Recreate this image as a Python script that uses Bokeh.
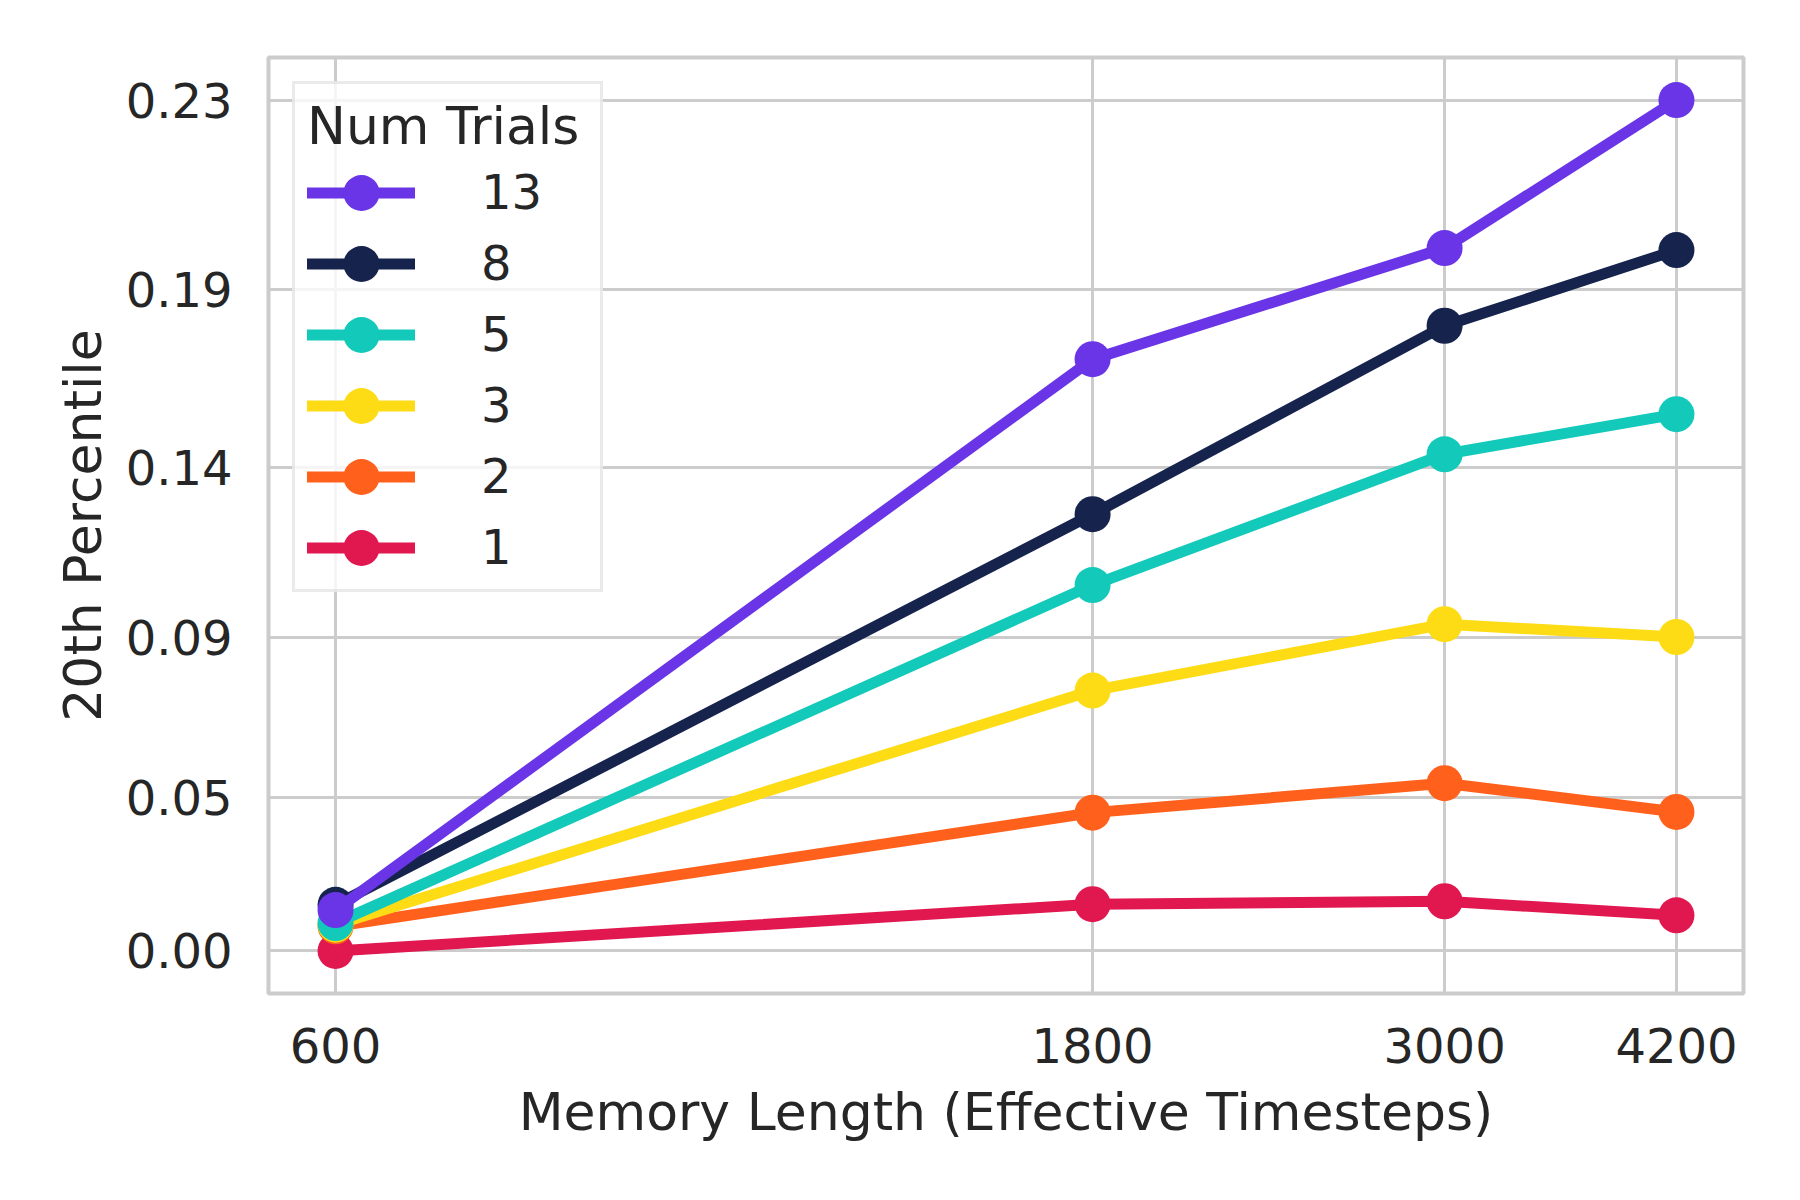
import numpy as np
from bokeh.plotting import figure
from bokeh.models import Range1d, FixedTicker, CustomJSTickFormatter, Legend, LegendItem
from bokeh.embed import file_html
from bokeh.resources import INLINE

# ---------------- data ----------------
memory_length = [600, 1800, 3000, 4200]
xtick_labels = ["600", "1800", "3000", "4200"]

trials_1 = [0.0000, 0.0144, 0.0153, 0.0110]
trials_2 = [0.0076, 0.0420, 0.0507, 0.0422]
trials_3 = [0.0081, 0.0776, 0.0964, 0.0928]
trials_5 = [0.0086, 0.1073, 0.1428, 0.1534]
trials_8 = [0.0142, 0.1267, 0.1763, 0.1954]
trials_13 = [0.0126, 0.1677, 0.1959, 0.2320]

ytick_values = [0.0, 0.0464, 0.0928, 0.1392, 0.1856, 0.232]
ytick_labels = ["0.00", "0.05", "0.09", "0.14", "0.19", "0.23"]

series = [
    ("1", trials_1, "#E1174F"),
    ("2", trials_2, "#FF601C"),
    ("3", trials_3, "#FEDC15"),
    ("5", trials_5, "#13C9BA"),
    ("8", trials_8, "#15234D"),
    ("13", trials_13, "#6A35E6"),
]
legend_order = ["13", "8", "5", "3", "2", "1"]

FONT = "DejaVu Sans"
TXT = "#262626"


def fwd(v):
    # value axis is drawn on a -log(1 - y) scale
    return -np.log1p(-np.asarray(v, dtype=float))


# ranges with 5% padding (log space for x, transformed space for y)
lx0, lx1 = np.log10(min(memory_length)), np.log10(max(memory_length))
padx = 0.05 * (lx1 - lx0)
all_vals = np.concatenate([s[1] for s in series])
fy0, fy1 = fwd(all_vals.min()), fwd(all_vals.max())
pady = 0.05 * (fy1 - fy0)

p = figure(
    width=1784, height=1184,
    x_axis_type="log",
    x_range=Range1d(10 ** (lx0 - padx), 10 ** (lx1 + padx)),
    y_range=Range1d(fy0 - pady, fy1 + pady),
    output_backend="svg", toolbar_location=None,
    min_border_left=268, min_border_right=41,
    min_border_top=57, min_border_bottom=191,
)
p.background_fill_color = "white"
p.border_fill_color = "white"
p.outline_line_color = "#cccccc"
p.outline_line_width = 4

yt = [float(t) for t in fwd(ytick_values)]
p.xaxis.ticker = FixedTicker(ticks=memory_length, minor_ticks=[])
p.yaxis.ticker = FixedTicker(ticks=yt, minor_ticks=[])
p.xgrid.ticker = FixedTicker(ticks=memory_length, minor_ticks=[])
p.ygrid.ticker = FixedTicker(ticks=yt, minor_ticks=[])
p.xaxis.formatter = CustomJSTickFormatter(args=dict(labels=xtick_labels), code="return labels[index];")
p.yaxis.formatter = CustomJSTickFormatter(args=dict(labels=ytick_labels), code="return labels[index];")

for g in (p.xgrid, p.ygrid):
    g.grid_line_color = "#cccccc"
    g.grid_line_width = 3

for ax in (p.xaxis, p.yaxis):
    ax.axis_line_color = None
    ax.major_tick_line_color = None
    ax.minor_tick_line_color = None
    ax.major_tick_out = 0
    ax.major_tick_in = 0
    ax.minor_tick_out = 0
    ax.minor_tick_in = 0
    ax.major_label_text_font = FONT
    ax.major_label_text_font_size = "48px"
    ax.major_label_text_color = TXT
    ax.axis_label_text_font = FONT
    ax.axis_label_text_font_size = "52px"
    ax.axis_label_text_font_style = "normal"
    ax.axis_label_text_color = TXT

p.xaxis.axis_label = "Memory Length (Effective Timesteps)"
p.yaxis.axis_label = "20th Percentile"
p.xaxis.major_label_standoff = 34
p.xaxis.axis_label_standoff = 16
p.yaxis.major_label_standoff = 36
p.yaxis.axis_label_standoff = 10

renderers = {}
for name, vals, color in series:
    yv = fwd(vals)
    ln = p.line(memory_length, yv, line_width=11, line_color=color,
                line_cap="round", line_join="round")
    dot = p.ellipse(memory_length, yv, width=36, height=36,
                    width_units="screen", height_units="screen",
                    fill_color=color, line_color=None)
    renderers[name] = [ln, dot]

legend = Legend(
    items=[LegendItem(label=t, renderers=renderers[t]) for t in legend_order],
    location="top_left",
    title="Num Trials",
    title_text_font=FONT, title_text_font_size="52px",
    title_text_font_style="normal", title_text_color=TXT,
    title_standoff=6,
    label_text_font=FONT, label_text_font_size="48px", label_text_color=TXT,
    glyph_height=45, glyph_width=108, label_standoff=66, label_width=107,
    label_height=60,
    spacing=11, padding=12, margin=24,
    border_line_color="#d6d6d6", border_line_width=3,
    background_fill_color="white", background_fill_alpha=0.8,
)
p.add_layout(legend)

open("out.html", "w").write(file_html(p, INLINE))
